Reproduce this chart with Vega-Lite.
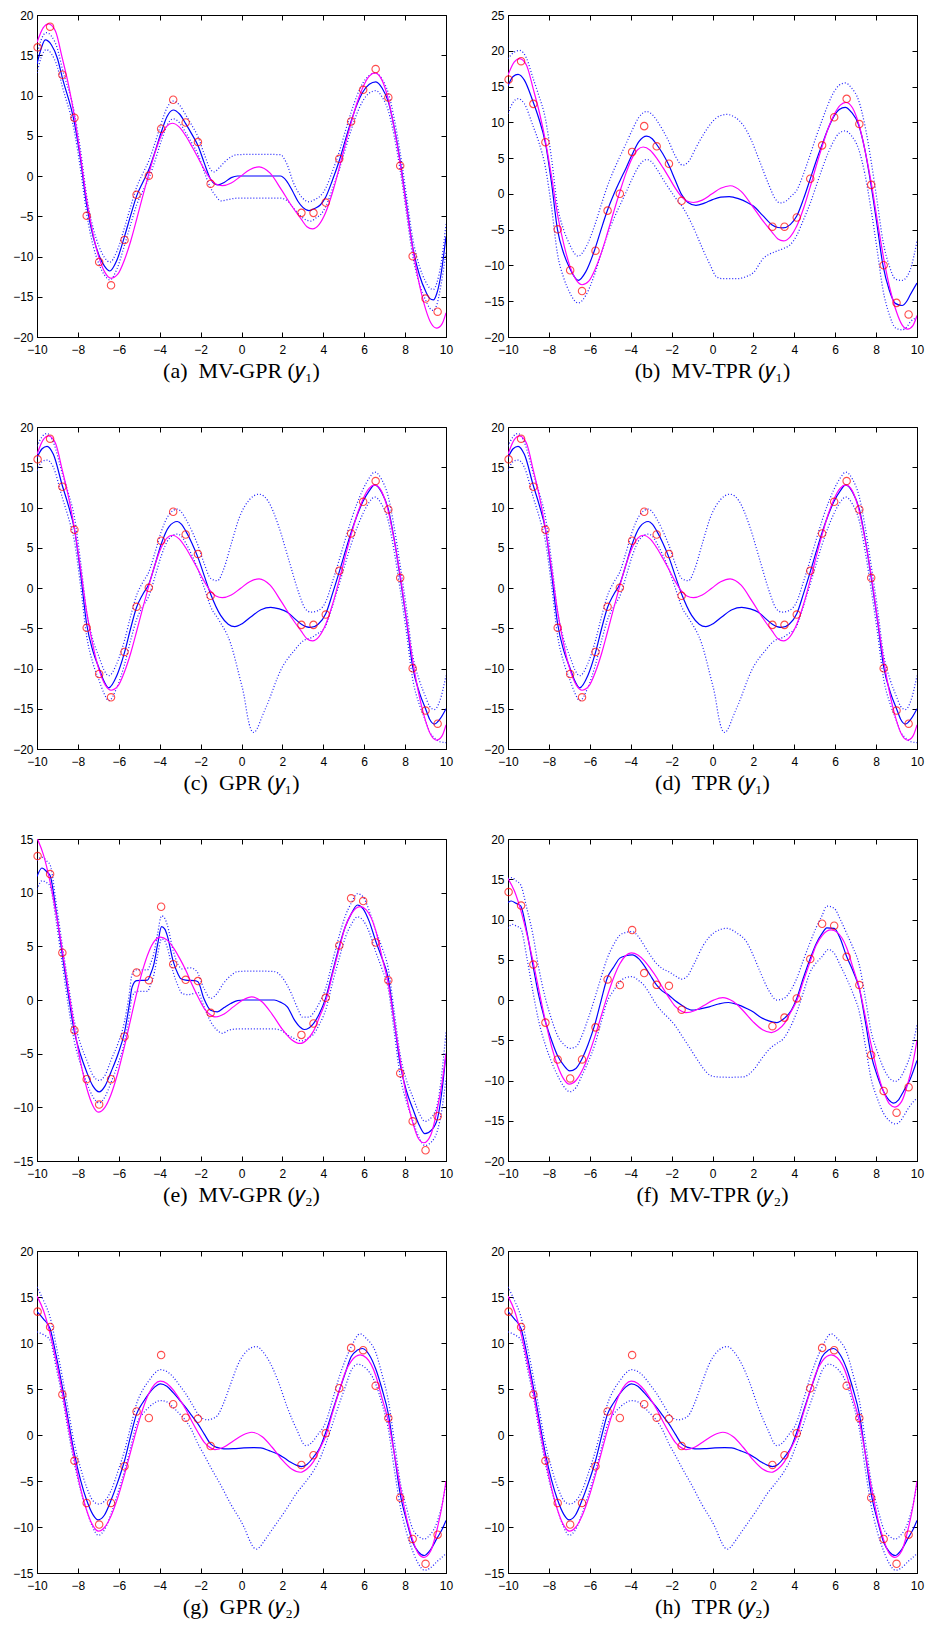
{
"$schema":"https://vega.github.io/schema/vega-lite/v6.json",
"background":"white",
"padding":{"left":12,"top":8,"right":10,"bottom":5},
"config":{
 "view":{"stroke":"black","strokeWidth":1,"fill":null},
 "axis":{"grid":false,"domainColor":"black","tickColor":"black","tickWidth":1,"labelFont":"Liberation Sans","labelFontSize":12,"labelColor":"black"},
 "title":{"orient":"bottom","anchor":"middle","font":"Liberation Serif","fontSize":22,"fontWeight":"normal","color":"black","offset":6}
},
"datasets":{
"pts1":[{"x":-9.97,"y":15.98},{"x":-9.36,"y":18.55},{"x":-8.76,"y":12.58},{"x":-8.17,"y":7.23},{"x":-7.57,"y":-4.95},{"x":-6.96,"y":-10.67},{"x":-6.38,"y":-13.58},{"x":-5.72,"y":-7.94},{"x":-5.13,"y":-2.34},{"x":-4.53,"y":0.02},{"x":-3.93,"y":5.87},{"x":-3.34,"y":9.47},{"x":-2.73,"y":6.65},{"x":-2.13,"y":4.21},{"x":-1.51,"y":-0.97},{"x":2.93,"y":-4.58},{"x":3.52,"y":-4.58},{"x":4.12,"y":-3.3},{"x":4.78,"y":2.13},{"x":5.36,"y":6.78},{"x":5.95,"y":10.71},{"x":6.56,"y":13.28},{"x":7.18,"y":9.76},{"x":7.76,"y":1.26},{"x":8.37,"y":-9.97},{"x":9.0,"y":-15.23},{"x":9.59,"y":-16.85}],
"pts2":[{"x":-9.97,"y":13.41},{"x":-9.36,"y":11.73},{"x":-8.76,"y":4.4},{"x":-8.17,"y":-2.81},{"x":-7.57,"y":-7.38},{"x":-6.96,"y":-9.74},{"x":-6.38,"y":-7.38},{"x":-5.72,"y":-3.4},{"x":-5.13,"y":2.56},{"x":-4.53,"y":1.85},{"x":-3.93,"y":8.69},{"x":-3.34,"y":3.34},{"x":-2.73,"y":1.88},{"x":-2.13,"y":1.76},{"x":-1.51,"y":-1.2},{"x":2.93,"y":-3.25},{"x":3.52,"y":-2.19},{"x":4.12,"y":0.2},{"x":4.78,"y":5.08},{"x":5.36,"y":9.47},{"x":5.95,"y":9.22},{"x":6.56,"y":5.36},{"x":7.18,"y":1.85},{"x":7.76,"y":-6.82},{"x":8.37,"y":-11.3},{"x":9.0,"y":-14.0},{"x":9.59,"y":-10.83}],
"tru1":[{"x":-10,"y":16.6},{"x":-9.7,"y":18.4},{"x":-9.43,"y":18.9},{"x":-9.1,"y":18.0},{"x":-8.76,"y":14.6},{"x":-8.45,"y":11.2},{"x":-8.17,"y":7.4},{"x":-7.87,"y":2.4},{"x":-7.57,"y":-3.0},{"x":-7.25,"y":-7.3},{"x":-6.96,"y":-10.2},{"x":-6.65,"y":-12.1},{"x":-6.38,"y":-12.7},{"x":-6.05,"y":-12.2},{"x":-5.72,"y":-10.4},{"x":-5.42,"y":-8.1},{"x":-5.13,"y":-5.4},{"x":-4.83,"y":-2.5},{"x":-4.53,"y":0.3},{"x":-4.23,"y":2.9},{"x":-3.93,"y":5.0},{"x":-3.65,"y":6.2},{"x":-3.39,"y":6.55},{"x":-3.05,"y":6.1},{"x":-2.73,"y":5.0},{"x":-2.43,"y":3.7},{"x":-2.13,"y":2.3},{"x":-1.82,"y":0.8},{"x":-1.51,"y":-0.4},{"x":-1.25,"y":-1.0},{"x":-0.94,"y":-1.2},{"x":-0.5,"y":-0.87},{"x":-0.04,"y":-0.03},{"x":0.4,"y":0.78},{"x":0.86,"y":1.14},{"x":1.4,"y":0.35},{"x":1.95,"y":-1.7},{"x":2.45,"y":-3.7},{"x":2.93,"y":-5.4},{"x":3.2,"y":-6.3},{"x":3.47,"y":-6.57},{"x":3.8,"y":-6.0},{"x":4.12,"y":-4.5},{"x":4.45,"y":-2.05},{"x":4.78,"y":1.0},{"x":5.07,"y":3.9},{"x":5.36,"y":6.6},{"x":5.65,"y":9.1},{"x":5.95,"y":11.1},{"x":6.25,"y":12.4},{"x":6.52,"y":12.8},{"x":6.85,"y":12.0},{"x":7.18,"y":9.5},{"x":7.47,"y":5.9},{"x":7.76,"y":1.6},{"x":8.07,"y":-3.9},{"x":8.37,"y":-9.0},{"x":8.7,"y":-13.5},{"x":9.0,"y":-16.5},{"x":9.27,"y":-18.3},{"x":9.54,"y":-18.9},{"x":9.8,"y":-18.4},{"x":10,"y":-17.0}],
"tru2":[{"x":-10,"y":15.1},{"x":-9.68,"y":13.5},{"x":-9.36,"y":11.0},{"x":-9.06,"y":8.0},{"x":-8.76,"y":4.6},{"x":-8.47,"y":1.0},{"x":-8.17,"y":-2.6},{"x":-7.87,"y":-5.8},{"x":-7.57,"y":-8.2},{"x":-7.28,"y":-9.8},{"x":-7.0,"y":-10.45},{"x":-6.68,"y":-10.0},{"x":-6.38,"y":-8.8},{"x":-6.05,"y":-6.8},{"x":-5.72,"y":-4.3},{"x":-5.42,"y":-1.8},{"x":-5.13,"y":0.6},{"x":-4.83,"y":2.8},{"x":-4.53,"y":4.5},{"x":-4.25,"y":5.5},{"x":-3.97,"y":5.85},{"x":-3.65,"y":5.6},{"x":-3.34,"y":4.9},{"x":-3.03,"y":3.9},{"x":-2.73,"y":2.8},{"x":-2.43,"y":1.5},{"x":-2.13,"y":0.3},{"x":-1.82,"y":-0.8},{"x":-1.51,"y":-1.4},{"x":-1.3,"y":-1.58},{"x":-0.85,"y":-1.3},{"x":-0.4,"y":-0.64},{"x":0.05,"y":-0.02},{"x":0.5,"y":0.3},{"x":1.0,"y":-0.16},{"x":1.5,"y":-1.33},{"x":2.0,"y":-2.74},{"x":2.45,"y":-3.7},{"x":2.88,"y":-4.05},{"x":3.2,"y":-3.7},{"x":3.52,"y":-2.9},{"x":3.85,"y":-1.4},{"x":4.12,"y":-0.1},{"x":4.45,"y":2.4},{"x":4.78,"y":4.8},{"x":5.07,"y":6.8},{"x":5.36,"y":8.0},{"x":5.8,"y":8.7},{"x":6.1,"y":8.4},{"x":6.56,"y":6.5},{"x":6.87,"y":4.0},{"x":7.18,"y":1.5},{"x":7.47,"y":-2.0},{"x":7.76,"y":-5.6},{"x":8.07,"y":-9.0},{"x":8.37,"y":-11.4},{"x":8.65,"y":-12.9},{"x":8.92,"y":-13.3},{"x":9.25,"y":-12.6},{"x":9.59,"y":-10.0},{"x":9.8,"y":-7.8},{"x":10,"y":-5.0}],
"a_m":[{"x":-10,"y":13.9},{"x":-9.8,"y":15.8},{"x":-9.6,"y":16.9},{"x":-9.3,"y":16.3},{"x":-9.0,"y":14.6},{"x":-8.76,"y":12.2},{"x":-8.17,"y":6.6},{"x":-7.87,"y":2.0},{"x":-7.57,"y":-3.6},{"x":-7.25,"y":-7.6},{"x":-6.96,"y":-9.9},{"x":-6.7,"y":-11.2},{"x":-6.44,"y":-11.8},{"x":-6.1,"y":-10.5},{"x":-5.72,"y":-7.5},{"x":-5.42,"y":-4.9},{"x":-5.13,"y":-2.5},{"x":-4.83,"y":-0.8},{"x":-4.53,"y":0.8},{"x":-4.23,"y":3.0},{"x":-3.93,"y":5.4},{"x":-3.64,"y":7.4},{"x":-3.34,"y":8.2},{"x":-3.03,"y":7.7},{"x":-2.73,"y":6.5},{"x":-2.43,"y":5.2},{"x":-2.13,"y":3.8},{"x":-1.82,"y":1.6},{"x":-1.51,"y":-0.4},{"x":-1.3,"y":-1.0},{"x":-1.15,"y":-1.1},{"x":-0.85,"y":-0.8},{"x":-0.5,"y":-0.2},{"x":-0.2,"y":0.0},{"x":0.8,"y":0.0},{"x":1.9,"y":0.0},{"x":2.2,"y":-0.6},{"x":2.5,"y":-1.9},{"x":2.75,"y":-3.1},{"x":3.0,"y":-3.9},{"x":3.3,"y":-4.3},{"x":3.6,"y":-4.0},{"x":3.85,"y":-3.6},{"x":4.12,"y":-2.6},{"x":4.45,"y":-0.5},{"x":4.78,"y":1.9},{"x":5.07,"y":4.4},{"x":5.36,"y":6.8},{"x":5.65,"y":8.9},{"x":5.95,"y":10.5},{"x":6.25,"y":11.4},{"x":6.57,"y":11.7},{"x":6.88,"y":10.9},{"x":7.18,"y":9.2},{"x":7.47,"y":6.0},{"x":7.76,"y":1.8},{"x":8.07,"y":-3.6},{"x":8.37,"y":-8.8},{"x":8.7,"y":-12.3},{"x":9.0,"y":-14.3},{"x":9.2,"y":-15.2},{"x":9.38,"y":-15.4},{"x":9.55,"y":-14.6},{"x":9.75,"y":-12.3},{"x":10,"y":-7.5}],
"a_b":[{"s":"u","x":-10,"y":15.1},{"s":"u","x":-9.8,"y":16.9},{"s":"u","x":-9.55,"y":17.8},{"s":"u","x":-9.3,"y":17.4},{"s":"u","x":-9.0,"y":15.8},{"s":"u","x":-8.76,"y":13.3},{"s":"u","x":-8.17,"y":7.8},{"s":"u","x":-7.87,"y":3.2},{"s":"u","x":-7.57,"y":-2.5},{"s":"u","x":-7.25,"y":-6.5},{"s":"u","x":-6.96,"y":-8.8},{"s":"u","x":-6.7,"y":-10.1},{"s":"u","x":-6.44,"y":-10.7},{"s":"u","x":-6.1,"y":-9.4},{"s":"u","x":-5.72,"y":-6.4},{"s":"u","x":-5.42,"y":-3.8},{"s":"u","x":-5.13,"y":-1.4},{"s":"u","x":-4.83,"y":0.3},{"s":"u","x":-4.53,"y":1.9},{"s":"u","x":-4.23,"y":4.1},{"s":"u","x":-3.93,"y":6.5},{"s":"u","x":-3.64,"y":8.5},{"s":"u","x":-3.34,"y":9.3},{"s":"u","x":-3.03,"y":8.8},{"s":"u","x":-2.73,"y":7.6},{"s":"u","x":-2.43,"y":6.3},{"s":"u","x":-2.13,"y":4.9},{"s":"u","x":-1.82,"y":2.7},{"s":"u","x":-1.51,"y":0.8},{"s":"u","x":-1.35,"y":0.5},{"s":"u","x":-1.1,"y":1.0},{"s":"u","x":-0.8,"y":1.8},{"s":"u","x":-0.5,"y":2.4},{"s":"u","x":-0.2,"y":2.65},{"s":"u","x":0.8,"y":2.7},{"s":"u","x":1.9,"y":2.65},{"s":"u","x":2.2,"y":1.6},{"s":"u","x":2.55,"y":-0.9},{"s":"u","x":2.85,"y":-2.3},{"s":"u","x":3.1,"y":-3.0},{"s":"u","x":3.3,"y":-3.2},{"s":"u","x":3.6,"y":-2.9},{"s":"u","x":3.85,"y":-2.5},{"s":"u","x":4.12,"y":-1.5},{"s":"u","x":4.45,"y":0.6},{"s":"u","x":4.78,"y":3.0},{"s":"u","x":5.07,"y":5.5},{"s":"u","x":5.36,"y":7.9},{"s":"u","x":5.65,"y":10.0},{"s":"u","x":5.95,"y":11.6},{"s":"u","x":6.25,"y":12.5},{"s":"u","x":6.57,"y":12.8},{"s":"u","x":6.88,"y":12.0},{"s":"u","x":7.18,"y":10.3},{"s":"u","x":7.47,"y":7.1},{"s":"u","x":7.76,"y":2.9},{"s":"u","x":8.07,"y":-2.5},{"s":"u","x":8.37,"y":-7.7},{"s":"u","x":8.7,"y":-11.2},{"s":"u","x":9.0,"y":-13.1},{"s":"u","x":9.2,"y":-13.9},{"s":"u","x":9.38,"y":-14.1},{"s":"u","x":9.55,"y":-13.3},{"s":"u","x":9.75,"y":-11.0},{"s":"u","x":10,"y":-6.0},
{"s":"l","x":-10,"y":12.8},{"s":"l","x":-9.8,"y":14.7},{"s":"l","x":-9.55,"y":15.7},{"s":"l","x":-9.3,"y":15.2},{"s":"l","x":-9.0,"y":13.5},{"s":"l","x":-8.76,"y":11.1},{"s":"l","x":-8.17,"y":5.5},{"s":"l","x":-7.87,"y":0.8},{"s":"l","x":-7.57,"y":-4.7},{"s":"l","x":-7.25,"y":-8.7},{"s":"l","x":-6.96,"y":-11.0},{"s":"l","x":-6.7,"y":-12.3},{"s":"l","x":-6.44,"y":-12.9},{"s":"l","x":-6.1,"y":-11.6},{"s":"l","x":-5.72,"y":-8.6},{"s":"l","x":-5.42,"y":-6.0},{"s":"l","x":-5.13,"y":-3.6},{"s":"l","x":-4.83,"y":-1.9},{"s":"l","x":-4.53,"y":-0.3},{"s":"l","x":-4.23,"y":1.9},{"s":"l","x":-3.93,"y":4.3},{"s":"l","x":-3.64,"y":6.3},{"s":"l","x":-3.34,"y":7.1},{"s":"l","x":-3.03,"y":6.6},{"s":"l","x":-2.73,"y":5.4},{"s":"l","x":-2.43,"y":4.1},{"s":"l","x":-2.13,"y":2.7},{"s":"l","x":-1.82,"y":0.5},{"s":"l","x":-1.51,"y":-1.5},{"s":"l","x":-1.25,"y":-2.5},{"s":"l","x":-1.0,"y":-3.1},{"s":"l","x":-0.6,"y":-2.9},{"s":"l","x":-0.2,"y":-2.75},{"s":"l","x":0.8,"y":-2.75},{"s":"l","x":1.9,"y":-2.75},{"s":"l","x":2.2,"y":-3.0},{"s":"l","x":2.55,"y":-4.0},{"s":"l","x":2.9,"y":-5.0},{"s":"l","x":3.2,"y":-5.5},{"s":"l","x":3.4,"y":-5.6},{"s":"l","x":3.65,"y":-5.2},{"s":"l","x":3.9,"y":-4.7},{"s":"l","x":4.12,"y":-3.8},{"s":"l","x":4.45,"y":-1.6},{"s":"l","x":4.78,"y":0.8},{"s":"l","x":5.07,"y":3.3},{"s":"l","x":5.36,"y":5.7},{"s":"l","x":5.65,"y":7.8},{"s":"l","x":5.95,"y":9.4},{"s":"l","x":6.25,"y":10.3},{"s":"l","x":6.57,"y":10.6},{"s":"l","x":6.88,"y":9.8},{"s":"l","x":7.18,"y":8.1},{"s":"l","x":7.47,"y":4.9},{"s":"l","x":7.76,"y":0.7},{"s":"l","x":8.07,"y":-4.7},{"s":"l","x":8.37,"y":-9.9},{"s":"l","x":8.7,"y":-13.4},{"s":"l","x":9.0,"y":-15.4},{"s":"l","x":9.2,"y":-16.4},{"s":"l","x":9.38,"y":-16.7},{"s":"l","x":9.55,"y":-16.0},{"s":"l","x":9.75,"y":-13.6},{"s":"l","x":10,"y":-9.5}],
"b_m":[{"x":-10,"y":15.1},{"x":-9.75,"y":16.4},{"x":-9.51,"y":16.7},{"x":-9.2,"y":15.9},{"x":-8.79,"y":13.0},{"x":-8.5,"y":10.6},{"x":-8.17,"y":7.1},{"x":-7.87,"y":1.5},{"x":-7.58,"y":-5.0},{"x":-7.28,"y":-8.3},{"x":-6.98,"y":-10.4},{"x":-6.75,"y":-11.6},{"x":-6.57,"y":-12.1},{"x":-6.2,"y":-10.9},{"x":-5.76,"y":-7.8},{"x":-5.45,"y":-5.0},{"x":-5.15,"y":-2.4},{"x":-4.83,"y":-0.1},{"x":-4.53,"y":1.8},{"x":-4.23,"y":3.6},{"x":-3.93,"y":5.5},{"x":-3.6,"y":7.3},{"x":-3.22,"y":8.07},{"x":-2.95,"y":7.7},{"x":-2.73,"y":6.9},{"x":-2.43,"y":5.6},{"x":-2.15,"y":4.1},{"x":-1.82,"y":1.9},{"x":-1.51,"y":-0.1},{"x":-1.2,"y":-1.2},{"x":-0.81,"y":-1.6},{"x":-0.4,"y":-1.3},{"x":0.0,"y":-0.8},{"x":0.4,"y":-0.45},{"x":0.82,"y":-0.37},{"x":1.3,"y":-0.7},{"x":1.7,"y":-1.2},{"x":2.0,"y":-1.7},{"x":2.45,"y":-3.0},{"x":2.9,"y":-4.3},{"x":3.2,"y":-4.7},{"x":3.44,"y":-4.76},{"x":3.8,"y":-4.3},{"x":4.12,"y":-3.1},{"x":4.45,"y":-0.7},{"x":4.78,"y":2.1},{"x":5.07,"y":4.6},{"x":5.36,"y":6.9},{"x":5.65,"y":9.1},{"x":5.95,"y":10.9},{"x":6.2,"y":11.8},{"x":6.49,"y":12.1},{"x":6.8,"y":11.4},{"x":7.14,"y":9.7},{"x":7.45,"y":6.2},{"x":7.75,"y":1.3},{"x":8.05,"y":-4.4},{"x":8.33,"y":-9.9},{"x":8.65,"y":-13.5},{"x":8.94,"y":-15.3},{"x":9.27,"y":-15.6},{"x":9.5,"y":-15.0},{"x":9.67,"y":-14.1},{"x":10,"y":-12.45}],
"b_b":[{"s":"u","x":-10,"y":18.9},{"s":"u","x":-9.7,"y":19.8},{"s":"u","x":-9.43,"y":20.05},{"s":"u","x":-9.1,"y":19.0},{"s":"u","x":-8.79,"y":16.3},{"s":"u","x":-8.5,"y":13.8},{"s":"u","x":-8.17,"y":10.5},{"s":"u","x":-7.87,"y":4.9},{"s":"u","x":-7.58,"y":-1.7},{"s":"u","x":-7.28,"y":-5.0},{"s":"u","x":-6.98,"y":-7.1},{"s":"u","x":-6.75,"y":-8.3},{"s":"u","x":-6.57,"y":-8.7},{"s":"u","x":-6.2,"y":-7.5},{"s":"u","x":-5.76,"y":-4.4},{"s":"u","x":-5.45,"y":-1.6},{"s":"u","x":-5.15,"y":1.0},{"s":"u","x":-4.83,"y":3.3},{"s":"u","x":-4.53,"y":5.2},{"s":"u","x":-4.23,"y":7.0},{"s":"u","x":-3.93,"y":8.9},{"s":"u","x":-3.6,"y":10.7},{"s":"u","x":-3.22,"y":11.5},{"s":"u","x":-2.95,"y":11.1},{"s":"u","x":-2.73,"y":10.3},{"s":"u","x":-2.43,"y":8.9},{"s":"u","x":-2.15,"y":7.4},{"s":"u","x":-1.82,"y":5.3},{"s":"u","x":-1.46,"y":4.0},{"s":"u","x":-1.15,"y":4.6},{"s":"u","x":-0.8,"y":6.5},{"s":"u","x":-0.4,"y":8.5},{"s":"u","x":0.0,"y":10.1},{"s":"u","x":0.35,"y":10.9},{"s":"u","x":0.69,"y":11.1},{"s":"u","x":1.1,"y":10.7},{"s":"u","x":1.5,"y":9.6},{"s":"u","x":1.9,"y":7.5},{"s":"u","x":2.3,"y":4.6},{"s":"u","x":2.75,"y":1.3},{"s":"u","x":3.05,"y":-0.6},{"s":"u","x":3.3,"y":-1.26},{"s":"u","x":3.6,"y":-1.0},{"s":"u","x":3.85,"y":-0.3},{"s":"u","x":4.12,"y":0.5},{"s":"u","x":4.45,"y":2.8},{"s":"u","x":4.78,"y":5.5},{"s":"u","x":5.07,"y":8.0},{"s":"u","x":5.36,"y":10.3},{"s":"u","x":5.65,"y":12.5},{"s":"u","x":5.95,"y":14.3},{"s":"u","x":6.2,"y":15.2},{"s":"u","x":6.49,"y":15.5},{"s":"u","x":6.8,"y":14.8},{"s":"u","x":7.14,"y":13.1},{"s":"u","x":7.45,"y":9.6},{"s":"u","x":7.75,"y":4.7},{"s":"u","x":8.05,"y":-1.0},{"s":"u","x":8.33,"y":-6.5},{"s":"u","x":8.65,"y":-10.1},{"s":"u","x":8.94,"y":-11.9},{"s":"u","x":9.27,"y":-12.1},{"s":"u","x":9.5,"y":-11.6},{"s":"u","x":9.67,"y":-10.6},{"s":"u","x":10,"y":-6.6},
{"s":"l","x":-10,"y":11.2},{"s":"l","x":-9.75,"y":12.8},{"s":"l","x":-9.51,"y":13.3},{"s":"l","x":-9.2,"y":12.6},{"s":"l","x":-8.79,"y":9.6},{"s":"l","x":-8.5,"y":7.3},{"s":"l","x":-8.17,"y":3.7},{"s":"l","x":-7.87,"y":-1.9},{"s":"l","x":-7.58,"y":-8.4},{"s":"l","x":-7.28,"y":-11.7},{"s":"l","x":-6.98,"y":-13.8},{"s":"l","x":-6.75,"y":-14.9},{"s":"l","x":-6.57,"y":-15.25},{"s":"l","x":-6.2,"y":-14.2},{"s":"l","x":-5.76,"y":-11.2},{"s":"l","x":-5.45,"y":-8.4},{"s":"l","x":-5.15,"y":-5.8},{"s":"l","x":-4.83,"y":-3.5},{"s":"l","x":-4.53,"y":-1.6},{"s":"l","x":-4.23,"y":0.2},{"s":"l","x":-3.93,"y":2.1},{"s":"l","x":-3.6,"y":3.9},{"s":"l","x":-3.22,"y":4.8},{"s":"l","x":-2.95,"y":4.4},{"s":"l","x":-2.73,"y":3.5},{"s":"l","x":-2.3,"y":1.5},{"s":"l","x":-1.85,"y":-0.4},{"s":"l","x":-1.43,"y":-2.0},{"s":"l","x":-1.1,"y":-3.7},{"s":"l","x":-0.78,"y":-5.7},{"s":"l","x":-0.45,"y":-7.9},{"s":"l","x":-0.12,"y":-9.9},{"s":"l","x":0.2,"y":-11.6},{"s":"l","x":0.5,"y":-11.85},{"s":"l","x":1.2,"y":-11.85},{"s":"l","x":1.6,"y":-11.6},{"s":"l","x":2.0,"y":-11.0},{"s":"l","x":2.49,"y":-9.0},{"s":"l","x":2.8,"y":-8.4},{"s":"l","x":3.14,"y":-8.0},{"s":"l","x":3.5,"y":-7.6},{"s":"l","x":3.8,"y":-7.1},{"s":"l","x":4.12,"y":-5.8},{"s":"l","x":4.45,"y":-3.6},{"s":"l","x":4.78,"y":-1.3},{"s":"l","x":5.07,"y":1.1},{"s":"l","x":5.36,"y":3.5},{"s":"l","x":5.65,"y":5.7},{"s":"l","x":5.95,"y":7.5},{"s":"l","x":6.2,"y":8.5},{"s":"l","x":6.49,"y":8.8},{"s":"l","x":6.8,"y":8.1},{"s":"l","x":7.14,"y":6.3},{"s":"l","x":7.45,"y":2.8},{"s":"l","x":7.75,"y":-2.1},{"s":"l","x":8.05,"y":-7.8},{"s":"l","x":8.33,"y":-13.3},{"s":"l","x":8.65,"y":-16.9},{"s":"l","x":8.94,"y":-18.7},{"s":"l","x":9.27,"y":-19.0},{"s":"l","x":9.5,"y":-18.6},{"s":"l","x":9.67,"y":-17.9},{"s":"l","x":10,"y":-17.3}],
"c_m":[{"x":-10,"y":16.2},{"x":-9.75,"y":17.3},{"x":-9.51,"y":17.6},{"x":-9.2,"y":16.6},{"x":-8.76,"y":12.7},{"x":-8.47,"y":10.3},{"x":-8.17,"y":7.3},{"x":-7.87,"y":1.8},{"x":-7.57,"y":-4.5},{"x":-7.27,"y":-7.8},{"x":-6.96,"y":-10.0},{"x":-6.72,"y":-11.6},{"x":-6.49,"y":-12.4},{"x":-6.1,"y":-10.9},{"x":-5.72,"y":-8.0},{"x":-5.42,"y":-5.0},{"x":-5.13,"y":-2.4},{"x":-4.83,"y":-0.8},{"x":-4.53,"y":0.5},{"x":-4.23,"y":2.9},{"x":-3.93,"y":5.45},{"x":-3.55,"y":7.6},{"x":-3.14,"y":8.26},{"x":-2.93,"y":7.9},{"x":-2.73,"y":7.1},{"x":-2.43,"y":5.6},{"x":-2.13,"y":3.8},{"x":-1.82,"y":1.5},{"x":-1.51,"y":-0.74},{"x":-1.02,"y":-3.4},{"x":-0.65,"y":-4.5},{"x":-0.33,"y":-4.8},{"x":0.05,"y":-4.4},{"x":0.45,"y":-3.6},{"x":0.95,"y":-2.7},{"x":1.43,"y":-2.4},{"x":1.85,"y":-2.6},{"x":2.24,"y":-3.0},{"x":2.6,"y":-3.8},{"x":2.93,"y":-4.5},{"x":3.15,"y":-4.8},{"x":3.39,"y":-4.9},{"x":3.75,"y":-4.5},{"x":4.12,"y":-3.2},{"x":4.45,"y":-0.7},{"x":4.78,"y":2.0},{"x":5.07,"y":4.5},{"x":5.36,"y":6.9},{"x":5.65,"y":9.0},{"x":5.95,"y":10.8},{"x":6.23,"y":12.0},{"x":6.52,"y":12.8},{"x":6.85,"y":11.9},{"x":7.18,"y":9.8},{"x":7.47,"y":6.0},{"x":7.76,"y":1.3},{"x":8.07,"y":-4.1},{"x":8.37,"y":-9.8},{"x":8.7,"y":-13.0},{"x":9.0,"y":-15.0},{"x":9.2,"y":-16.3},{"x":9.43,"y":-16.9},{"x":9.7,"y":-16.3},{"x":10,"y":-15.0}],
"c_b":[{"s":"u","x":-10,"y":17.6},{"s":"u","x":-9.75,"y":18.8},{"s":"u","x":-9.51,"y":19.2},{"s":"u","x":-9.2,"y":18.1},{"s":"u","x":-8.76,"y":14.2},{"s":"u","x":-8.47,"y":11.8},{"s":"u","x":-8.17,"y":8.8},{"s":"u","x":-7.87,"y":3.3},{"s":"u","x":-7.57,"y":-3.0},{"s":"u","x":-7.27,"y":-6.4},{"s":"u","x":-6.96,"y":-8.6},{"s":"u","x":-6.72,"y":-10.2},{"s":"u","x":-6.49,"y":-10.9},{"s":"u","x":-6.1,"y":-9.4},{"s":"u","x":-5.72,"y":-6.5},{"s":"u","x":-5.42,"y":-3.5},{"s":"u","x":-5.13,"y":-0.9},{"s":"u","x":-4.83,"y":0.7},{"s":"u","x":-4.53,"y":2.0},{"s":"u","x":-4.23,"y":4.4},{"s":"u","x":-3.93,"y":6.95},{"s":"u","x":-3.55,"y":9.1},{"s":"u","x":-3.14,"y":9.8},{"s":"u","x":-2.93,"y":9.4},{"s":"u","x":-2.73,"y":8.6},{"s":"u","x":-2.43,"y":7.1},{"s":"u","x":-2.13,"y":5.3},{"s":"u","x":-1.82,"y":3.0},{"s":"u","x":-1.51,"y":1.2},{"s":"u","x":-1.18,"y":0.9},{"s":"u","x":-0.85,"y":2.5},{"s":"u","x":-0.5,"y":5.5},{"s":"u","x":-0.1,"y":8.8},{"s":"u","x":0.4,"y":11.0},{"s":"u","x":0.86,"y":11.65},{"s":"u","x":1.3,"y":10.8},{"s":"u","x":1.8,"y":7.8},{"s":"u","x":2.3,"y":3.6},{"s":"u","x":2.8,"y":-0.6},{"s":"u","x":3.1,"y":-2.5},{"s":"u","x":3.39,"y":-3.0},{"s":"u","x":3.75,"y":-2.8},{"s":"u","x":4.12,"y":-1.7},{"s":"u","x":4.45,"y":0.8},{"s":"u","x":4.78,"y":3.5},{"s":"u","x":5.07,"y":6.0},{"s":"u","x":5.36,"y":8.4},{"s":"u","x":5.65,"y":10.5},{"s":"u","x":5.95,"y":12.3},{"s":"u","x":6.23,"y":13.6},{"s":"u","x":6.52,"y":14.4},{"s":"u","x":6.85,"y":13.5},{"s":"u","x":7.18,"y":11.3},{"s":"u","x":7.47,"y":7.5},{"s":"u","x":7.76,"y":2.8},{"s":"u","x":8.07,"y":-2.6},{"s":"u","x":8.37,"y":-8.3},{"s":"u","x":8.7,"y":-11.5},{"s":"u","x":9.0,"y":-13.5},{"s":"u","x":9.2,"y":-14.7},{"s":"u","x":9.43,"y":-15.1},{"s":"u","x":9.7,"y":-14.0},{"s":"u","x":10,"y":-10.9},
{"s":"l","x":-10,"y":14.6},{"s":"l","x":-9.75,"y":15.7},{"s":"l","x":-9.51,"y":15.9},{"s":"l","x":-9.2,"y":15.0},{"s":"l","x":-8.76,"y":11.2},{"s":"l","x":-8.47,"y":8.8},{"s":"l","x":-8.17,"y":5.8},{"s":"l","x":-7.87,"y":0.3},{"s":"l","x":-7.57,"y":-6.0},{"s":"l","x":-7.27,"y":-9.3},{"s":"l","x":-6.96,"y":-11.5},{"s":"l","x":-6.72,"y":-13.1},{"s":"l","x":-6.49,"y":-14.0},{"s":"l","x":-6.1,"y":-12.4},{"s":"l","x":-5.72,"y":-9.5},{"s":"l","x":-5.42,"y":-6.5},{"s":"l","x":-5.13,"y":-3.9},{"s":"l","x":-4.83,"y":-2.3},{"s":"l","x":-4.53,"y":-1.0},{"s":"l","x":-4.23,"y":1.4},{"s":"l","x":-3.93,"y":3.95},{"s":"l","x":-3.55,"y":6.1},{"s":"l","x":-3.14,"y":6.7},{"s":"l","x":-2.93,"y":6.4},{"s":"l","x":-2.73,"y":5.6},{"s":"l","x":-2.43,"y":4.1},{"s":"l","x":-2.13,"y":2.3},{"s":"l","x":-1.82,"y":0.0},{"s":"l","x":-1.51,"y":-2.3},{"s":"l","x":-1.1,"y":-4.0},{"s":"l","x":-0.53,"y":-6.9},{"s":"l","x":-0.1,"y":-11.0},{"s":"l","x":0.12,"y":-13.3},{"s":"l","x":0.3,"y":-16.0},{"s":"l","x":0.45,"y":-17.5},{"s":"l","x":0.6,"y":-17.95},{"s":"l","x":0.78,"y":-17.4},{"s":"l","x":1.0,"y":-16.0},{"s":"l","x":1.27,"y":-14.4},{"s":"l","x":1.92,"y":-10.2},{"s":"l","x":2.57,"y":-7.8},{"s":"l","x":3.06,"y":-6.5},{"s":"l","x":3.39,"y":-6.2},{"s":"l","x":3.71,"y":-5.7},{"s":"l","x":4.12,"y":-4.7},{"s":"l","x":4.45,"y":-2.2},{"s":"l","x":4.78,"y":0.5},{"s":"l","x":5.07,"y":3.0},{"s":"l","x":5.36,"y":5.4},{"s":"l","x":5.65,"y":7.5},{"s":"l","x":5.95,"y":9.3},{"s":"l","x":6.23,"y":10.6},{"s":"l","x":6.52,"y":11.3},{"s":"l","x":6.85,"y":10.4},{"s":"l","x":7.18,"y":8.3},{"s":"l","x":7.47,"y":4.5},{"s":"l","x":7.76,"y":-0.2},{"s":"l","x":8.07,"y":-5.6},{"s":"l","x":8.37,"y":-11.3},{"s":"l","x":8.7,"y":-14.5},{"s":"l","x":9.0,"y":-16.5},{"s":"l","x":9.2,"y":-17.9},{"s":"l","x":9.43,"y":-18.6},{"s":"l","x":9.7,"y":-19.1},{"s":"l","x":10,"y":-19.2}],
"e_m":[{"x":-10,"y":11.5},{"x":-9.76,"y":12.3},{"x":-9.5,"y":11.9},{"x":-9.36,"y":11.6},{"x":-9.06,"y":8.2},{"x":-8.76,"y":4.2},{"x":-8.47,"y":0.5},{"x":-8.17,"y":-3.0},{"x":-7.87,"y":-5.1},{"x":-7.57,"y":-6.7},{"x":-7.27,"y":-8.0},{"x":-6.96,"y":-8.56},{"x":-6.67,"y":-8.0},{"x":-6.38,"y":-6.7},{"x":-6.05,"y":-5.1},{"x":-5.72,"y":-3.0},{"x":-5.5,"y":-0.6},{"x":-5.35,"y":1.2},{"x":-5.13,"y":1.8},{"x":-4.6,"y":1.85},{"x":-4.45,"y":2.4},{"x":-4.29,"y":3.3},{"x":-4.1,"y":5.2},{"x":-3.91,"y":6.83},{"x":-3.75,"y":6.6},{"x":-3.63,"y":6.0},{"x":-3.34,"y":3.6},{"x":-3.1,"y":2.4},{"x":-2.98,"y":2.0},{"x":-2.73,"y":1.85},{"x":-2.3,"y":1.8},{"x":-2.13,"y":1.7},{"x":-1.84,"y":0.14},{"x":-1.51,"y":-0.95},{"x":-1.18,"y":-1.1},{"x":-0.85,"y":-0.7},{"x":-0.53,"y":-0.33},{"x":-0.2,"y":-0.05},{"x":0.1,"y":0.0},{"x":1.6,"y":0.0},{"x":1.9,"y":-0.2},{"x":2.24,"y":-0.64},{"x":2.6,"y":-1.9},{"x":2.85,"y":-2.5},{"x":3.06,"y":-2.75},{"x":3.3,"y":-2.6},{"x":3.52,"y":-2.2},{"x":3.8,"y":-1.3},{"x":4.12,"y":0.2},{"x":4.45,"y":2.6},{"x":4.78,"y":5.0},{"x":5.07,"y":6.8},{"x":5.36,"y":8.0},{"x":5.67,"y":8.85},{"x":5.95,"y":8.5},{"x":6.25,"y":7.3},{"x":6.56,"y":5.5},{"x":6.87,"y":3.9},{"x":7.18,"y":2.0},{"x":7.47,"y":-2.0},{"x":7.76,"y":-6.0},{"x":8.07,"y":-8.5},{"x":8.37,"y":-10.1},{"x":8.7,"y":-11.7},{"x":8.97,"y":-12.45},{"x":9.3,"y":-12.1},{"x":9.59,"y":-11.0},{"x":9.8,"y":-8.5},{"x":10,"y":-5.0}],
"e_b":[{"s":"u","x":-10,"y":13.0},{"s":"u","x":-9.76,"y":13.3},{"s":"u","x":-9.5,"y":12.9},{"s":"u","x":-9.36,"y":12.6},{"s":"u","x":-9.06,"y":9.0},{"s":"u","x":-8.76,"y":5.1},{"s":"u","x":-8.47,"y":1.5},{"s":"u","x":-8.17,"y":-2.0},{"s":"u","x":-7.87,"y":-4.1},{"s":"u","x":-7.57,"y":-5.6},{"s":"u","x":-7.27,"y":-7.0},{"s":"u","x":-6.96,"y":-7.5},{"s":"u","x":-6.67,"y":-7.0},{"s":"u","x":-6.38,"y":-5.6},{"s":"u","x":-6.05,"y":-4.1},{"s":"u","x":-5.72,"y":-2.0},{"s":"u","x":-5.5,"y":0.4},{"s":"u","x":-5.35,"y":2.4},{"s":"u","x":-5.13,"y":2.8},{"s":"u","x":-4.6,"y":2.8},{"s":"u","x":-4.45,"y":3.4},{"s":"u","x":-4.29,"y":4.3},{"s":"u","x":-4.1,"y":6.2},{"s":"u","x":-3.91,"y":7.85},{"s":"u","x":-3.75,"y":7.6},{"s":"u","x":-3.63,"y":7.0},{"s":"u","x":-3.34,"y":4.6},{"s":"u","x":-3.1,"y":3.3},{"s":"u","x":-2.9,"y":2.9},{"s":"u","x":-2.5,"y":3.0},{"s":"u","x":-2.2,"y":2.7},{"s":"u","x":-1.84,"y":1.1},{"s":"u","x":-1.51,"y":0.15},{"s":"u","x":-1.2,"y":0.6},{"s":"u","x":-0.9,"y":1.5},{"s":"u","x":-0.5,"y":2.3},{"s":"u","x":-0.2,"y":2.65},{"s":"u","x":0.7,"y":2.7},{"s":"u","x":1.6,"y":2.65},{"s":"u","x":1.95,"y":2.2},{"s":"u","x":2.4,"y":0.76},{"s":"u","x":2.75,"y":-0.8},{"s":"u","x":2.98,"y":-1.6},{"s":"u","x":3.3,"y":-1.6},{"s":"u","x":3.52,"y":-1.2},{"s":"u","x":3.8,"y":-0.3},{"s":"u","x":4.12,"y":1.1},{"s":"u","x":4.45,"y":3.6},{"s":"u","x":4.78,"y":6.0},{"s":"u","x":5.07,"y":7.8},{"s":"u","x":5.36,"y":9.0},{"s":"u","x":5.67,"y":9.9},{"s":"u","x":5.95,"y":9.6},{"s":"u","x":6.25,"y":8.3},{"s":"u","x":6.56,"y":6.5},{"s":"u","x":6.87,"y":4.9},{"s":"u","x":7.18,"y":2.9},{"s":"u","x":7.47,"y":-1.1},{"s":"u","x":7.76,"y":-5.1},{"s":"u","x":8.07,"y":-7.5},{"s":"u","x":8.37,"y":-9.0},{"s":"u","x":8.7,"y":-10.6},{"s":"u","x":8.97,"y":-11.3},{"s":"u","x":9.3,"y":-10.9},{"s":"u","x":9.59,"y":-9.6},{"s":"u","x":9.8,"y":-6.8},{"s":"u","x":10,"y":-3.0},
{"s":"l","x":-10,"y":10.3},{"s":"l","x":-9.76,"y":11.1},{"s":"l","x":-9.5,"y":10.9},{"s":"l","x":-9.36,"y":10.6},{"s":"l","x":-9.06,"y":7.3},{"s":"l","x":-8.76,"y":3.3},{"s":"l","x":-8.47,"y":-0.5},{"s":"l","x":-8.17,"y":-3.9},{"s":"l","x":-7.87,"y":-6.0},{"s":"l","x":-7.57,"y":-7.7},{"s":"l","x":-7.27,"y":-9.0},{"s":"l","x":-6.96,"y":-9.6},{"s":"l","x":-6.67,"y":-9.0},{"s":"l","x":-6.38,"y":-7.7},{"s":"l","x":-6.05,"y":-6.0},{"s":"l","x":-5.72,"y":-3.9},{"s":"l","x":-5.5,"y":-1.6},{"s":"l","x":-5.35,"y":0.3},{"s":"l","x":-5.13,"y":0.8},{"s":"l","x":-4.6,"y":0.8},{"s":"l","x":-4.45,"y":1.4},{"s":"l","x":-4.29,"y":2.3},{"s":"l","x":-4.1,"y":4.2},{"s":"l","x":-3.91,"y":5.7},{"s":"l","x":-3.75,"y":5.5},{"s":"l","x":-3.63,"y":4.9},{"s":"l","x":-3.34,"y":2.6},{"s":"l","x":-3.1,"y":1.3},{"s":"l","x":-2.9,"y":0.6},{"s":"l","x":-2.6,"y":0.5},{"s":"l","x":-2.13,"y":0.7},{"s":"l","x":-1.84,"y":-0.6},{"s":"l","x":-1.51,"y":-2.0},{"s":"l","x":-1.2,"y":-2.8},{"s":"l","x":-0.94,"y":-3.1},{"s":"l","x":-0.6,"y":-2.8},{"s":"l","x":-0.2,"y":-2.7},{"s":"l","x":0.7,"y":-2.7},{"s":"l","x":1.6,"y":-2.7},{"s":"l","x":1.95,"y":-2.85},{"s":"l","x":2.3,"y":-3.3},{"s":"l","x":2.6,"y":-3.6},{"s":"l","x":2.95,"y":-3.8},{"s":"l","x":3.3,"y":-3.5},{"s":"l","x":3.52,"y":-3.2},{"s":"l","x":3.8,"y":-2.3},{"s":"l","x":4.12,"y":-0.9},{"s":"l","x":4.45,"y":1.6},{"s":"l","x":4.78,"y":3.9},{"s":"l","x":5.07,"y":5.8},{"s":"l","x":5.36,"y":7.0},{"s":"l","x":5.67,"y":7.75},{"s":"l","x":5.95,"y":7.4},{"s":"l","x":6.25,"y":6.3},{"s":"l","x":6.56,"y":4.5},{"s":"l","x":6.87,"y":2.9},{"s":"l","x":7.18,"y":1.0},{"s":"l","x":7.47,"y":-3.0},{"s":"l","x":7.76,"y":-7.1},{"s":"l","x":8.07,"y":-9.5},{"s":"l","x":8.37,"y":-11.2},{"s":"l","x":8.7,"y":-12.9},{"s":"l","x":8.97,"y":-13.55},{"s":"l","x":9.3,"y":-13.2},{"s":"l","x":9.59,"y":-12.1},{"s":"l","x":9.8,"y":-10.2},{"s":"l","x":10,"y":-7.3}],
"f_m":[{"x":-10,"y":12.1},{"x":-9.84,"y":12.3},{"x":-9.6,"y":12.0},{"x":-9.38,"y":11.7},{"x":-9.08,"y":8.5},{"x":-8.78,"y":4.3},{"x":-8.5,"y":0.6},{"x":-8.17,"y":-2.7},{"x":-7.87,"y":-5.0},{"x":-7.58,"y":-6.9},{"x":-7.28,"y":-8.1},{"x":-6.98,"y":-8.8},{"x":-6.68,"y":-8.5},{"x":-6.38,"y":-7.3},{"x":-6.08,"y":-5.5},{"x":-5.76,"y":-3.1},{"x":-5.45,"y":-0.1},{"x":-5.15,"y":2.7},{"x":-4.83,"y":4.1},{"x":-4.53,"y":5.2},{"x":-4.23,"y":5.5},{"x":-3.93,"y":5.6},{"x":-3.6,"y":5.1},{"x":-3.35,"y":4.3},{"x":-3.05,"y":3.1},{"x":-2.73,"y":1.84},{"x":-2.45,"y":1.1},{"x":-2.13,"y":0.6},{"x":-1.82,"y":-0.1},{"x":-1.51,"y":-0.64},{"x":-1.25,"y":-1.05},{"x":-1.02,"y":-1.26},{"x":-0.6,"y":-1.1},{"x":-0.16,"y":-0.85},{"x":0.3,"y":-0.5},{"x":0.78,"y":-0.31},{"x":1.2,"y":-0.55},{"x":1.67,"y":-1.06},{"x":2.0,"y":-1.5},{"x":2.33,"y":-2.1},{"x":2.75,"y":-2.6},{"x":3.14,"y":-2.8},{"x":3.5,"y":-2.3},{"x":3.85,"y":-1.3},{"x":4.12,"y":0.19},{"x":4.45,"y":2.8},{"x":4.78,"y":5.16},{"x":5.07,"y":7.0},{"x":5.36,"y":8.27},{"x":5.59,"y":8.97},{"x":5.95,"y":8.9},{"x":6.25,"y":7.6},{"x":6.56,"y":5.4},{"x":6.87,"y":3.6},{"x":7.18,"y":1.4},{"x":7.47,"y":-2.6},{"x":7.76,"y":-6.86},{"x":8.07,"y":-9.5},{"x":8.37,"y":-11.4},{"x":8.62,"y":-12.4},{"x":8.86,"y":-12.8},{"x":9.1,"y":-12.4},{"x":9.35,"y":-11.3},{"x":9.67,"y":-9.8},{"x":10,"y":-7.5}],
"f_b":[{"s":"u","x":-10,"y":15.1},{"s":"u","x":-9.8,"y":15.2},{"s":"u","x":-9.6,"y":14.8},{"s":"u","x":-9.38,"y":14.3},{"s":"u","x":-9.08,"y":11.4},{"s":"u","x":-8.78,"y":8.1},{"s":"u","x":-8.5,"y":4.0},{"s":"u","x":-8.17,"y":0.2},{"s":"u","x":-7.87,"y":-2.4},{"s":"u","x":-7.58,"y":-4.4},{"s":"u","x":-7.28,"y":-5.5},{"s":"u","x":-6.98,"y":-6.0},{"s":"u","x":-6.68,"y":-5.8},{"s":"u","x":-6.38,"y":-4.4},{"s":"u","x":-6.08,"y":-2.3},{"s":"u","x":-5.76,"y":0.2},{"s":"u","x":-5.45,"y":2.8},{"s":"u","x":-5.15,"y":5.16},{"s":"u","x":-4.83,"y":6.9},{"s":"u","x":-4.53,"y":8.06},{"s":"u","x":-4.23,"y":8.4},{"s":"u","x":-3.93,"y":8.5},{"s":"u","x":-3.6,"y":7.8},{"s":"u","x":-3.35,"y":6.8},{"s":"u","x":-3.05,"y":5.6},{"s":"u","x":-2.73,"y":4.5},{"s":"u","x":-2.45,"y":3.9},{"s":"u","x":-2.13,"y":3.5},{"s":"u","x":-1.82,"y":3.0},{"s":"u","x":-1.51,"y":2.6},{"s":"u","x":-1.25,"y":2.9},{"s":"u","x":-0.9,"y":4.5},{"s":"u","x":-0.45,"y":6.8},{"s":"u","x":0.1,"y":8.4},{"s":"u","x":0.69,"y":8.9},{"s":"u","x":1.2,"y":8.3},{"s":"u","x":1.67,"y":7.2},{"s":"u","x":2.0,"y":5.5},{"s":"u","x":2.33,"y":3.5},{"s":"u","x":2.75,"y":1.2},{"s":"u","x":3.14,"y":0.0},{"s":"u","x":3.5,"y":0.2},{"s":"u","x":3.85,"y":1.3},{"s":"u","x":4.12,"y":2.67},{"s":"u","x":4.45,"y":5.0},{"s":"u","x":4.78,"y":7.2},{"s":"u","x":5.07,"y":9.0},{"s":"u","x":5.36,"y":10.5},{"s":"u","x":5.59,"y":11.67},{"s":"u","x":5.95,"y":11.4},{"s":"u","x":6.25,"y":10.0},{"s":"u","x":6.56,"y":8.27},{"s":"u","x":6.87,"y":6.5},{"s":"u","x":7.18,"y":4.33},{"s":"u","x":7.47,"y":0.3},{"s":"u","x":7.76,"y":-3.96},{"s":"u","x":8.07,"y":-6.5},{"s":"u","x":8.37,"y":-8.5},{"s":"u","x":8.62,"y":-9.6},{"s":"u","x":8.94,"y":-10.1},{"s":"u","x":9.2,"y":-9.6},{"s":"u","x":9.35,"y":-8.9},{"s":"u","x":9.67,"y":-6.86},{"s":"u","x":10,"y":-3.1},
{"s":"l","x":-10,"y":8.9},{"s":"l","x":-9.8,"y":9.4},{"s":"l","x":-9.6,"y":9.2},{"s":"l","x":-9.38,"y":8.9},{"s":"l","x":-9.08,"y":5.3},{"s":"l","x":-8.78,"y":1.0},{"s":"l","x":-8.5,"y":-2.6},{"s":"l","x":-8.17,"y":-5.6},{"s":"l","x":-7.87,"y":-7.7},{"s":"l","x":-7.58,"y":-9.35},{"s":"l","x":-7.28,"y":-10.7},{"s":"l","x":-6.98,"y":-11.4},{"s":"l","x":-6.68,"y":-10.9},{"s":"l","x":-6.38,"y":-9.35},{"s":"l","x":-6.08,"y":-7.7},{"s":"l","x":-5.76,"y":-5.6},{"s":"l","x":-5.45,"y":-2.8},{"s":"l","x":-5.15,"y":-0.2},{"s":"l","x":-4.83,"y":1.2},{"s":"l","x":-4.53,"y":2.26},{"s":"l","x":-4.23,"y":2.8},{"s":"l","x":-3.93,"y":2.9},{"s":"l","x":-3.6,"y":2.4},{"s":"l","x":-3.35,"y":1.84},{"s":"l","x":-3.05,"y":0.7},{"s":"l","x":-2.73,"y":-0.64},{"s":"l","x":-2.45,"y":-1.5},{"s":"l","x":-2.13,"y":-2.3},{"s":"l","x":-1.82,"y":-3.2},{"s":"l","x":-1.51,"y":-4.4},{"s":"l","x":-1.15,"y":-5.8},{"s":"l","x":-0.77,"y":-7.3},{"s":"l","x":-0.45,"y":-8.5},{"s":"l","x":-0.12,"y":-9.35},{"s":"l","x":0.2,"y":-9.55},{"s":"l","x":0.85,"y":-9.6},{"s":"l","x":1.5,"y":-9.55},{"s":"l","x":2.0,"y":-8.7},{"s":"l","x":2.4,"y":-7.3},{"s":"l","x":2.82,"y":-6.0},{"s":"l","x":3.14,"y":-5.4},{"s":"l","x":3.47,"y":-4.8},{"s":"l","x":3.8,"y":-3.4},{"s":"l","x":4.12,"y":-1.5},{"s":"l","x":4.45,"y":1.0},{"s":"l","x":4.78,"y":3.5},{"s":"l","x":5.07,"y":4.6},{"s":"l","x":5.36,"y":5.4},{"s":"l","x":5.67,"y":6.28},{"s":"l","x":5.95,"y":5.8},{"s":"l","x":6.25,"y":4.3},{"s":"l","x":6.56,"y":2.67},{"s":"l","x":6.87,"y":0.8},{"s":"l","x":7.18,"y":-1.5},{"s":"l","x":7.47,"y":-5.6},{"s":"l","x":7.76,"y":-9.8},{"s":"l","x":8.07,"y":-12.3},{"s":"l","x":8.37,"y":-14.1},{"s":"l","x":8.65,"y":-15.0},{"s":"l","x":8.94,"y":-15.4},{"s":"l","x":9.2,"y":-15.0},{"s":"l","x":9.35,"y":-14.4},{"s":"l","x":9.67,"y":-13.1},{"s":"l","x":10,"y":-12.2}],
"g_m":[{"x":-10,"y":13.4},{"x":-9.68,"y":12.6},{"x":-9.36,"y":11.55},{"x":-9.06,"y":8.6},{"x":-8.76,"y":5.2},{"x":-8.47,"y":1.6},{"x":-8.17,"y":-2.05},{"x":-7.87,"y":-4.9},{"x":-7.57,"y":-7.1},{"x":-7.28,"y":-8.6},{"x":-7.01,"y":-9.23},{"x":-6.7,"y":-8.7},{"x":-6.38,"y":-7.1},{"x":-6.05,"y":-5.1},{"x":-5.72,"y":-2.8},{"x":-5.42,"y":-0.1},{"x":-5.13,"y":2.3},{"x":-4.83,"y":3.5},{"x":-4.53,"y":4.5},{"x":-4.25,"y":5.2},{"x":-3.96,"y":5.56},{"x":-3.65,"y":5.3},{"x":-3.34,"y":4.6},{"x":-3.03,"y":3.8},{"x":-2.73,"y":3.0},{"x":-2.43,"y":2.1},{"x":-2.13,"y":1.2},{"x":-1.82,"y":0.1},{"x":-1.51,"y":-0.96},{"x":-1.2,"y":-1.35},{"x":-0.86,"y":-1.5},{"x":-0.4,"y":-1.48},{"x":0.12,"y":-1.41},{"x":0.6,"y":-1.38},{"x":0.94,"y":-1.41},{"x":1.35,"y":-1.7},{"x":1.76,"y":-2.05},{"x":2.1,"y":-2.5},{"x":2.41,"y":-2.96},{"x":2.7,"y":-3.3},{"x":2.93,"y":-3.43},{"x":3.2,"y":-3.2},{"x":3.52,"y":-2.4},{"x":3.85,"y":-1.3},{"x":4.12,"y":0.3},{"x":4.45,"y":2.6},{"x":4.78,"y":4.84},{"x":5.07,"y":6.7},{"x":5.36,"y":8.5},{"x":5.65,"y":9.2},{"x":5.92,"y":9.4},{"x":6.25,"y":8.7},{"x":6.56,"y":7.2},{"x":6.87,"y":5.0},{"x":7.18,"y":2.3},{"x":7.47,"y":-2.0},{"x":7.76,"y":-6.4},{"x":8.07,"y":-9.3},{"x":8.37,"y":-11.65},{"x":8.65,"y":-12.7},{"x":8.94,"y":-13.1},{"x":9.2,"y":-12.6},{"x":9.59,"y":-11.1},{"x":9.8,"y":-10.3},{"x":10,"y":-9.3}],
"g_b":[{"s":"u","x":-10,"y":16.1},{"s":"u","x":-9.68,"y":14.6},{"s":"u","x":-9.36,"y":12.8},{"s":"u","x":-9.06,"y":9.7},{"s":"u","x":-8.76,"y":6.3},{"s":"u","x":-8.47,"y":2.7},{"s":"u","x":-8.17,"y":-0.96},{"s":"u","x":-7.87,"y":-3.6},{"s":"u","x":-7.57,"y":-5.7},{"s":"u","x":-7.28,"y":-7.1},{"s":"u","x":-7.0,"y":-7.5},{"s":"u","x":-6.7,"y":-7.2},{"s":"u","x":-6.38,"y":-6.05},{"s":"u","x":-6.05,"y":-4.0},{"s":"u","x":-5.72,"y":-1.7},{"s":"u","x":-5.42,"y":0.9},{"s":"u","x":-5.13,"y":3.4},{"s":"u","x":-4.83,"y":4.9},{"s":"u","x":-4.53,"y":5.9},{"s":"u","x":-4.25,"y":6.7},{"s":"u","x":-3.96,"y":7.1},{"s":"u","x":-3.65,"y":6.9},{"s":"u","x":-3.34,"y":6.3},{"s":"u","x":-3.03,"y":5.4},{"s":"u","x":-2.73,"y":4.5},{"s":"u","x":-2.43,"y":3.4},{"s":"u","x":-2.13,"y":2.3},{"s":"u","x":-1.9,"y":1.8},{"s":"u","x":-1.67,"y":1.65},{"s":"u","x":-1.4,"y":1.8},{"s":"u","x":-1.18,"y":2.1},{"s":"u","x":-0.85,"y":3.6},{"s":"u","x":-0.53,"y":5.56},{"s":"u","x":-0.1,"y":8.0},{"s":"u","x":0.35,"y":9.3},{"s":"u","x":0.73,"y":9.62},{"s":"u","x":1.1,"y":8.9},{"s":"u","x":1.43,"y":7.7},{"s":"u","x":1.8,"y":5.8},{"s":"u","x":2.24,"y":3.0},{"s":"u","x":2.7,"y":0.6},{"s":"u","x":3.14,"y":-1.15},{"s":"u","x":3.4,"y":-0.9},{"s":"u","x":3.7,"y":-0.05},{"s":"u","x":4.12,"y":1.4},{"s":"u","x":4.45,"y":3.8},{"s":"u","x":4.78,"y":6.3},{"s":"u","x":5.07,"y":8.1},{"s":"u","x":5.36,"y":9.55},{"s":"u","x":5.8,"y":11.0},{"s":"u","x":6.1,"y":10.5},{"s":"u","x":6.56,"y":9.0},{"s":"u","x":6.87,"y":6.6},{"s":"u","x":7.18,"y":3.75},{"s":"u","x":7.47,"y":-0.6},{"s":"u","x":7.76,"y":-5.1},{"s":"u","x":8.07,"y":-7.9},{"s":"u","x":8.37,"y":-10.2},{"s":"u","x":8.65,"y":-11.0},{"s":"u","x":8.94,"y":-11.3},{"s":"u","x":9.2,"y":-10.9},{"s":"u","x":9.59,"y":-9.3},{"s":"u","x":9.8,"y":-7.6},{"s":"u","x":10,"y":-5.3},
{"s":"l","x":-10,"y":11.2},{"s":"l","x":-9.68,"y":10.9},{"s":"l","x":-9.36,"y":10.3},{"s":"l","x":-9.06,"y":7.3},{"s":"l","x":-8.76,"y":4.1},{"s":"l","x":-8.47,"y":0.4},{"s":"l","x":-8.17,"y":-3.15},{"s":"l","x":-7.87,"y":-6.0},{"s":"l","x":-7.57,"y":-8.2},{"s":"l","x":-7.28,"y":-10.0},{"s":"l","x":-7.0,"y":-10.9},{"s":"l","x":-6.7,"y":-10.3},{"s":"l","x":-6.38,"y":-8.6},{"s":"l","x":-6.05,"y":-6.3},{"s":"l","x":-5.72,"y":-3.9},{"s":"l","x":-5.42,"y":-1.3},{"s":"l","x":-5.13,"y":1.2},{"s":"l","x":-4.83,"y":2.3},{"s":"l","x":-4.53,"y":3.0},{"s":"l","x":-4.25,"y":3.5},{"s":"l","x":-3.96,"y":3.75},{"s":"l","x":-3.65,"y":3.6},{"s":"l","x":-3.34,"y":3.0},{"s":"l","x":-3.03,"y":2.3},{"s":"l","x":-2.73,"y":1.57},{"s":"l","x":-2.43,"y":0.5},{"s":"l","x":-2.13,"y":-0.96},{"s":"l","x":-1.82,"y":-2.2},{"s":"l","x":-1.51,"y":-3.5},{"s":"l","x":-1.05,"y":-5.3},{"s":"l","x":-0.53,"y":-7.5},{"s":"l","x":0.12,"y":-10.0},{"s":"l","x":0.45,"y":-11.7},{"s":"l","x":0.6,"y":-12.25},{"s":"l","x":0.75,"y":-12.4},{"s":"l","x":0.92,"y":-12.1},{"s":"l","x":1.15,"y":-11.4},{"s":"l","x":1.43,"y":-10.5},{"s":"l","x":2.24,"y":-7.9},{"s":"l","x":2.7,"y":-6.3},{"s":"l","x":3.06,"y":-5.3},{"s":"l","x":3.52,"y":-3.9},{"s":"l","x":3.85,"y":-2.5},{"s":"l","x":4.12,"y":-0.96},{"s":"l","x":4.45,"y":1.2},{"s":"l","x":4.78,"y":3.4},{"s":"l","x":5.07,"y":5.2},{"s":"l","x":5.36,"y":7.0},{"s":"l","x":5.7,"y":7.7},{"s":"l","x":6.0,"y":7.4},{"s":"l","x":6.56,"y":5.56},{"s":"l","x":6.87,"y":3.4},{"s":"l","x":7.18,"y":0.67},{"s":"l","x":7.47,"y":-3.7},{"s":"l","x":7.76,"y":-7.7},{"s":"l","x":8.07,"y":-10.6},{"s":"l","x":8.37,"y":-12.6},{"s":"l","x":8.65,"y":-14.0},{"s":"l","x":8.94,"y":-14.7},{"s":"l","x":9.2,"y":-14.5},{"s":"l","x":9.59,"y":-13.7},{"s":"l","x":9.8,"y":-13.3},{"s":"l","x":10,"y":-12.9}]
},
"columns":2,
"spacing":{"row":90,"column":62},
"bounds":"flush",
"concat":[
{"width":409,"height":322,"title":{"text":"(a)\u2002MV-GPR (𝑦₁)"},"resolve":{"axis":{"x":"independent","y":"independent"}},
 "layer":[
 {"data":{"name":"a_b"},"mark":{"type":"line","interpolate":"monotone","strokeDash":[1,2],"strokeWidth":1.25,"color":"#2222ff","clip":true},
  "encoding":{"x":{"field":"x","type":"quantitative","scale":{"domain":[-10,10],"nice":false,"zero":false},"axis":{"orient":"bottom","values":[-10,-8,-6,-4,-2,0,2,4,6,8,10],"title":null,"labelFlush":false,"tickSize":-5,"labelPadding":12}},
   "y":{"field":"y","type":"quantitative","scale":{"domain":[-20,20],"nice":false,"zero":false},"axis":{"orient":"left","values":[-20,-15,-10,-5,0,5,10,15,20],"title":null,"tickSize":-5,"labelPadding":9}},"detail":{"field":"s"}}},
 {"data":{"name":"a_m"},"mark":{"type":"line","interpolate":"monotone","strokeWidth":1.2,"color":"#0000ff","clip":true},
  "encoding":{"x":{"field":"x","type":"quantitative","scale":{"domain":[-10,10],"nice":false,"zero":false},"axis":{"orient":"top","values":[-10,-8,-6,-4,-2,0,2,4,6,8,10],"title":null,"labels":false,"domain":false,"tickSize":-5}},
   "y":{"field":"y","type":"quantitative","scale":{"domain":[-20,20],"nice":false,"zero":false},"axis":{"orient":"right","values":[-20,-15,-10,-5,0,5,10,15,20],"title":null,"labels":false,"domain":false,"tickSize":-5}}}},
 {"data":{"name":"tru1"},"mark":{"type":"line","interpolate":"monotone","strokeWidth":1.2,"color":"#ff00ff","clip":true},
  "encoding":{"x":{"field":"x","type":"quantitative","scale":{"domain":[-10,10]},"axis":null},"y":{"field":"y","type":"quantitative","scale":{"domain":[-20,20]},"axis":null}}},
 {"data":{"name":"pts1"},"mark":{"type":"point","shape":"circle","filled":false,"color":"#ff0000","size":55,"strokeWidth":1.1},
  "encoding":{"x":{"field":"x","type":"quantitative","scale":{"domain":[-10,10]},"axis":null},"y":{"field":"y","type":"quantitative","scale":{"domain":[-20,20]},"axis":null}}}
 ]},
{"width":409,"height":322,"title":{"text":"(b)\u2002MV-TPR (𝑦₁)"},"resolve":{"axis":{"x":"independent","y":"independent"}},
 "layer":[
 {"data":{"name":"b_b"},"mark":{"type":"line","interpolate":"monotone","strokeDash":[1,2],"strokeWidth":1.25,"color":"#2222ff","clip":true},
  "encoding":{"x":{"field":"x","type":"quantitative","scale":{"domain":[-10,10],"nice":false,"zero":false},"axis":{"orient":"bottom","values":[-10,-8,-6,-4,-2,0,2,4,6,8,10],"title":null,"labelFlush":false,"tickSize":-5,"labelPadding":12}},
   "y":{"field":"y","type":"quantitative","scale":{"domain":[-20,25],"nice":false,"zero":false},"axis":{"orient":"left","values":[-20,-15,-10,-5,0,5,10,15,20,25],"title":null,"tickSize":-5,"labelPadding":9}},"detail":{"field":"s"}}},
 {"data":{"name":"b_m"},"mark":{"type":"line","interpolate":"monotone","strokeWidth":1.2,"color":"#0000ff","clip":true},
  "encoding":{"x":{"field":"x","type":"quantitative","scale":{"domain":[-10,10],"nice":false,"zero":false},"axis":{"orient":"top","values":[-10,-8,-6,-4,-2,0,2,4,6,8,10],"title":null,"labels":false,"domain":false,"tickSize":-5}},
   "y":{"field":"y","type":"quantitative","scale":{"domain":[-20,25],"nice":false,"zero":false},"axis":{"orient":"right","values":[-20,-15,-10,-5,0,5,10,15,20,25],"title":null,"labels":false,"domain":false,"tickSize":-5}}}},
 {"data":{"name":"tru1"},"mark":{"type":"line","interpolate":"monotone","strokeWidth":1.2,"color":"#ff00ff","clip":true},
  "encoding":{"x":{"field":"x","type":"quantitative","scale":{"domain":[-10,10]},"axis":null},"y":{"field":"y","type":"quantitative","scale":{"domain":[-20,25]},"axis":null}}},
 {"data":{"name":"pts1"},"mark":{"type":"point","shape":"circle","filled":false,"color":"#ff0000","size":55,"strokeWidth":1.1},
  "encoding":{"x":{"field":"x","type":"quantitative","scale":{"domain":[-10,10]},"axis":null},"y":{"field":"y","type":"quantitative","scale":{"domain":[-20,25]},"axis":null}}}
 ]},
{"width":409,"height":322,"title":{"text":"(c)\u2002GPR (𝑦₁)"},"resolve":{"axis":{"x":"independent","y":"independent"}},
 "layer":[
 {"data":{"name":"c_b"},"mark":{"type":"line","interpolate":"monotone","strokeDash":[1,2],"strokeWidth":1.25,"color":"#2222ff","clip":true},
  "encoding":{"x":{"field":"x","type":"quantitative","scale":{"domain":[-10,10],"nice":false,"zero":false},"axis":{"orient":"bottom","values":[-10,-8,-6,-4,-2,0,2,4,6,8,10],"title":null,"labelFlush":false,"tickSize":-5,"labelPadding":12}},
   "y":{"field":"y","type":"quantitative","scale":{"domain":[-20,20],"nice":false,"zero":false},"axis":{"orient":"left","values":[-20,-15,-10,-5,0,5,10,15,20],"title":null,"tickSize":-5,"labelPadding":9}},"detail":{"field":"s"}}},
 {"data":{"name":"c_m"},"mark":{"type":"line","interpolate":"monotone","strokeWidth":1.2,"color":"#0000ff","clip":true},
  "encoding":{"x":{"field":"x","type":"quantitative","scale":{"domain":[-10,10],"nice":false,"zero":false},"axis":{"orient":"top","values":[-10,-8,-6,-4,-2,0,2,4,6,8,10],"title":null,"labels":false,"domain":false,"tickSize":-5}},
   "y":{"field":"y","type":"quantitative","scale":{"domain":[-20,20],"nice":false,"zero":false},"axis":{"orient":"right","values":[-20,-15,-10,-5,0,5,10,15,20],"title":null,"labels":false,"domain":false,"tickSize":-5}}}},
 {"data":{"name":"tru1"},"mark":{"type":"line","interpolate":"monotone","strokeWidth":1.2,"color":"#ff00ff","clip":true},
  "encoding":{"x":{"field":"x","type":"quantitative","scale":{"domain":[-10,10]},"axis":null},"y":{"field":"y","type":"quantitative","scale":{"domain":[-20,20]},"axis":null}}},
 {"data":{"name":"pts1"},"mark":{"type":"point","shape":"circle","filled":false,"color":"#ff0000","size":55,"strokeWidth":1.1},
  "encoding":{"x":{"field":"x","type":"quantitative","scale":{"domain":[-10,10]},"axis":null},"y":{"field":"y","type":"quantitative","scale":{"domain":[-20,20]},"axis":null}}}
 ]},
{"width":409,"height":322,"title":{"text":"(d)\u2002TPR (𝑦₁)"},"resolve":{"axis":{"x":"independent","y":"independent"}},
 "layer":[
 {"data":{"name":"c_b"},"mark":{"type":"line","interpolate":"monotone","strokeDash":[1,2],"strokeWidth":1.25,"color":"#2222ff","clip":true},
  "encoding":{"x":{"field":"x","type":"quantitative","scale":{"domain":[-10,10],"nice":false,"zero":false},"axis":{"orient":"bottom","values":[-10,-8,-6,-4,-2,0,2,4,6,8,10],"title":null,"labelFlush":false,"tickSize":-5,"labelPadding":12}},
   "y":{"field":"y","type":"quantitative","scale":{"domain":[-20,20],"nice":false,"zero":false},"axis":{"orient":"left","values":[-20,-15,-10,-5,0,5,10,15,20],"title":null,"tickSize":-5,"labelPadding":9}},"detail":{"field":"s"}}},
 {"data":{"name":"c_m"},"mark":{"type":"line","interpolate":"monotone","strokeWidth":1.2,"color":"#0000ff","clip":true},
  "encoding":{"x":{"field":"x","type":"quantitative","scale":{"domain":[-10,10],"nice":false,"zero":false},"axis":{"orient":"top","values":[-10,-8,-6,-4,-2,0,2,4,6,8,10],"title":null,"labels":false,"domain":false,"tickSize":-5}},
   "y":{"field":"y","type":"quantitative","scale":{"domain":[-20,20],"nice":false,"zero":false},"axis":{"orient":"right","values":[-20,-15,-10,-5,0,5,10,15,20],"title":null,"labels":false,"domain":false,"tickSize":-5}}}},
 {"data":{"name":"tru1"},"mark":{"type":"line","interpolate":"monotone","strokeWidth":1.2,"color":"#ff00ff","clip":true},
  "encoding":{"x":{"field":"x","type":"quantitative","scale":{"domain":[-10,10]},"axis":null},"y":{"field":"y","type":"quantitative","scale":{"domain":[-20,20]},"axis":null}}},
 {"data":{"name":"pts1"},"mark":{"type":"point","shape":"circle","filled":false,"color":"#ff0000","size":55,"strokeWidth":1.1},
  "encoding":{"x":{"field":"x","type":"quantitative","scale":{"domain":[-10,10]},"axis":null},"y":{"field":"y","type":"quantitative","scale":{"domain":[-20,20]},"axis":null}}}
 ]},
{"width":409,"height":322,"title":{"text":"(e)\u2002MV-GPR (𝑦₂)"},"resolve":{"axis":{"x":"independent","y":"independent"}},
 "layer":[
 {"data":{"name":"e_b"},"mark":{"type":"line","interpolate":"monotone","strokeDash":[1,2],"strokeWidth":1.25,"color":"#2222ff","clip":true},
  "encoding":{"x":{"field":"x","type":"quantitative","scale":{"domain":[-10,10],"nice":false,"zero":false},"axis":{"orient":"bottom","values":[-10,-8,-6,-4,-2,0,2,4,6,8,10],"title":null,"labelFlush":false,"tickSize":-5,"labelPadding":12}},
   "y":{"field":"y","type":"quantitative","scale":{"domain":[-15,15],"nice":false,"zero":false},"axis":{"orient":"left","values":[-15,-10,-5,0,5,10,15],"title":null,"tickSize":-5,"labelPadding":9}},"detail":{"field":"s"}}},
 {"data":{"name":"e_m"},"mark":{"type":"line","interpolate":"monotone","strokeWidth":1.2,"color":"#0000ff","clip":true},
  "encoding":{"x":{"field":"x","type":"quantitative","scale":{"domain":[-10,10],"nice":false,"zero":false},"axis":{"orient":"top","values":[-10,-8,-6,-4,-2,0,2,4,6,8,10],"title":null,"labels":false,"domain":false,"tickSize":-5}},
   "y":{"field":"y","type":"quantitative","scale":{"domain":[-15,15],"nice":false,"zero":false},"axis":{"orient":"right","values":[-15,-10,-5,0,5,10,15],"title":null,"labels":false,"domain":false,"tickSize":-5}}}},
 {"data":{"name":"tru2"},"mark":{"type":"line","interpolate":"monotone","strokeWidth":1.2,"color":"#ff00ff","clip":true},
  "encoding":{"x":{"field":"x","type":"quantitative","scale":{"domain":[-10,10]},"axis":null},"y":{"field":"y","type":"quantitative","scale":{"domain":[-15,15]},"axis":null}}},
 {"data":{"name":"pts2"},"mark":{"type":"point","shape":"circle","filled":false,"color":"#ff0000","size":55,"strokeWidth":1.1},
  "encoding":{"x":{"field":"x","type":"quantitative","scale":{"domain":[-10,10]},"axis":null},"y":{"field":"y","type":"quantitative","scale":{"domain":[-15,15]},"axis":null}}}
 ]},
{"width":409,"height":322,"title":{"text":"(f)\u2002MV-TPR (𝑦₂)"},"resolve":{"axis":{"x":"independent","y":"independent"}},
 "layer":[
 {"data":{"name":"f_b"},"mark":{"type":"line","interpolate":"monotone","strokeDash":[1,2],"strokeWidth":1.25,"color":"#2222ff","clip":true},
  "encoding":{"x":{"field":"x","type":"quantitative","scale":{"domain":[-10,10],"nice":false,"zero":false},"axis":{"orient":"bottom","values":[-10,-8,-6,-4,-2,0,2,4,6,8,10],"title":null,"labelFlush":false,"tickSize":-5,"labelPadding":12}},
   "y":{"field":"y","type":"quantitative","scale":{"domain":[-20,20],"nice":false,"zero":false},"axis":{"orient":"left","values":[-20,-15,-10,-5,0,5,10,15,20],"title":null,"tickSize":-5,"labelPadding":9}},"detail":{"field":"s"}}},
 {"data":{"name":"f_m"},"mark":{"type":"line","interpolate":"monotone","strokeWidth":1.2,"color":"#0000ff","clip":true},
  "encoding":{"x":{"field":"x","type":"quantitative","scale":{"domain":[-10,10],"nice":false,"zero":false},"axis":{"orient":"top","values":[-10,-8,-6,-4,-2,0,2,4,6,8,10],"title":null,"labels":false,"domain":false,"tickSize":-5}},
   "y":{"field":"y","type":"quantitative","scale":{"domain":[-20,20],"nice":false,"zero":false},"axis":{"orient":"right","values":[-20,-15,-10,-5,0,5,10,15,20],"title":null,"labels":false,"domain":false,"tickSize":-5}}}},
 {"data":{"name":"tru2"},"mark":{"type":"line","interpolate":"monotone","strokeWidth":1.2,"color":"#ff00ff","clip":true},
  "encoding":{"x":{"field":"x","type":"quantitative","scale":{"domain":[-10,10]},"axis":null},"y":{"field":"y","type":"quantitative","scale":{"domain":[-20,20]},"axis":null}}},
 {"data":{"name":"pts2"},"mark":{"type":"point","shape":"circle","filled":false,"color":"#ff0000","size":55,"strokeWidth":1.1},
  "encoding":{"x":{"field":"x","type":"quantitative","scale":{"domain":[-10,10]},"axis":null},"y":{"field":"y","type":"quantitative","scale":{"domain":[-20,20]},"axis":null}}}
 ]},
{"width":409,"height":322,"title":{"text":"(g)\u2002GPR (𝑦₂)"},"resolve":{"axis":{"x":"independent","y":"independent"}},
 "layer":[
 {"data":{"name":"g_b"},"mark":{"type":"line","interpolate":"monotone","strokeDash":[1,2],"strokeWidth":1.25,"color":"#2222ff","clip":true},
  "encoding":{"x":{"field":"x","type":"quantitative","scale":{"domain":[-10,10],"nice":false,"zero":false},"axis":{"orient":"bottom","values":[-10,-8,-6,-4,-2,0,2,4,6,8,10],"title":null,"labelFlush":false,"tickSize":-5,"labelPadding":12}},
   "y":{"field":"y","type":"quantitative","scale":{"domain":[-15,20],"nice":false,"zero":false},"axis":{"orient":"left","values":[-15,-10,-5,0,5,10,15,20],"title":null,"tickSize":-5,"labelPadding":9}},"detail":{"field":"s"}}},
 {"data":{"name":"g_m"},"mark":{"type":"line","interpolate":"monotone","strokeWidth":1.2,"color":"#0000ff","clip":true},
  "encoding":{"x":{"field":"x","type":"quantitative","scale":{"domain":[-10,10],"nice":false,"zero":false},"axis":{"orient":"top","values":[-10,-8,-6,-4,-2,0,2,4,6,8,10],"title":null,"labels":false,"domain":false,"tickSize":-5}},
   "y":{"field":"y","type":"quantitative","scale":{"domain":[-15,20],"nice":false,"zero":false},"axis":{"orient":"right","values":[-15,-10,-5,0,5,10,15,20],"title":null,"labels":false,"domain":false,"tickSize":-5}}}},
 {"data":{"name":"tru2"},"mark":{"type":"line","interpolate":"monotone","strokeWidth":1.2,"color":"#ff00ff","clip":true},
  "encoding":{"x":{"field":"x","type":"quantitative","scale":{"domain":[-10,10]},"axis":null},"y":{"field":"y","type":"quantitative","scale":{"domain":[-15,20]},"axis":null}}},
 {"data":{"name":"pts2"},"mark":{"type":"point","shape":"circle","filled":false,"color":"#ff0000","size":55,"strokeWidth":1.1},
  "encoding":{"x":{"field":"x","type":"quantitative","scale":{"domain":[-10,10]},"axis":null},"y":{"field":"y","type":"quantitative","scale":{"domain":[-15,20]},"axis":null}}}
 ]},
{"width":409,"height":322,"title":{"text":"(h)\u2002TPR (𝑦₂)"},"resolve":{"axis":{"x":"independent","y":"independent"}},
 "layer":[
 {"data":{"name":"g_b"},"mark":{"type":"line","interpolate":"monotone","strokeDash":[1,2],"strokeWidth":1.25,"color":"#2222ff","clip":true},
  "encoding":{"x":{"field":"x","type":"quantitative","scale":{"domain":[-10,10],"nice":false,"zero":false},"axis":{"orient":"bottom","values":[-10,-8,-6,-4,-2,0,2,4,6,8,10],"title":null,"labelFlush":false,"tickSize":-5,"labelPadding":12}},
   "y":{"field":"y","type":"quantitative","scale":{"domain":[-15,20],"nice":false,"zero":false},"axis":{"orient":"left","values":[-15,-10,-5,0,5,10,15,20],"title":null,"tickSize":-5,"labelPadding":9}},"detail":{"field":"s"}}},
 {"data":{"name":"g_m"},"mark":{"type":"line","interpolate":"monotone","strokeWidth":1.2,"color":"#0000ff","clip":true},
  "encoding":{"x":{"field":"x","type":"quantitative","scale":{"domain":[-10,10],"nice":false,"zero":false},"axis":{"orient":"top","values":[-10,-8,-6,-4,-2,0,2,4,6,8,10],"title":null,"labels":false,"domain":false,"tickSize":-5}},
   "y":{"field":"y","type":"quantitative","scale":{"domain":[-15,20],"nice":false,"zero":false},"axis":{"orient":"right","values":[-15,-10,-5,0,5,10,15,20],"title":null,"labels":false,"domain":false,"tickSize":-5}}}},
 {"data":{"name":"tru2"},"mark":{"type":"line","interpolate":"monotone","strokeWidth":1.2,"color":"#ff00ff","clip":true},
  "encoding":{"x":{"field":"x","type":"quantitative","scale":{"domain":[-10,10]},"axis":null},"y":{"field":"y","type":"quantitative","scale":{"domain":[-15,20]},"axis":null}}},
 {"data":{"name":"pts2"},"mark":{"type":"point","shape":"circle","filled":false,"color":"#ff0000","size":55,"strokeWidth":1.1},
  "encoding":{"x":{"field":"x","type":"quantitative","scale":{"domain":[-10,10]},"axis":null},"y":{"field":"y","type":"quantitative","scale":{"domain":[-15,20]},"axis":null}}}
 ]}
]
}
